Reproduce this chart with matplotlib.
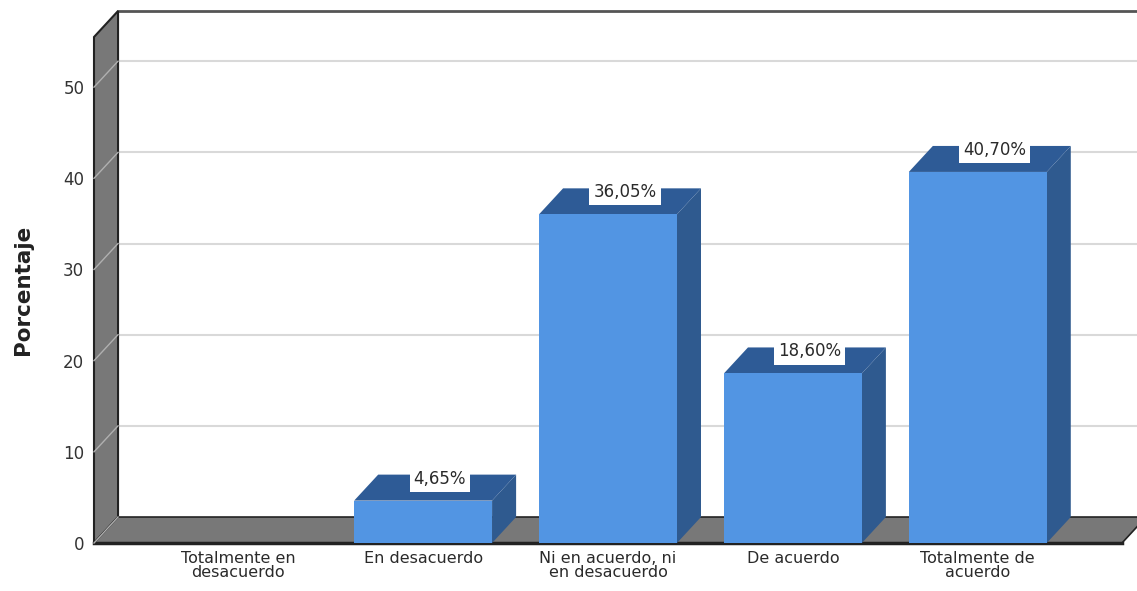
import matplotlib
matplotlib.use('Agg')
import matplotlib.pyplot as plt
from matplotlib.patches import Polygon, Rectangle

# Response shares (%) per answer option
categories = ['Totalmente en\ndesacuerdo', 'En desacuerdo',
              'Ni en acuerdo, ni\nen desacuerdo', 'De acuerdo',
              'Totalmente de\nacuerdo']
percent = [0.0, 4.65, 36.05, 18.60, 40.70]
value_labels = ['', '4,65%', '36,05%', '18,60%', '40,70%']
yticks = [0, 10, 20, 30, 40, 50]

# pseudo-3D look
FRONT = '#5295e3'
TOP = '#2e5b96'
SIDE = '#2f5a8f'
WALL = '#787878'
EDGE = '#222222'
GRID = '#d9d9d9'

X0, X1 = -0.78, 4.78
YTOP = 55.5
DX, DY = 0.13, 2.85   # depth offset in data units
BAR_W = 0.746

plt.rcParams['font.family'] = ['DejaVu Sans']

fig = plt.figure(figsize=(11.37, 5.91), dpi=100)
ax = fig.add_axes([94 / 1137, 48 / 591, 1028 / 1137, 506 / 591])
ax.set_xlim(X0, X1)
ax.set_ylim(0, YTOP)
for sp in ax.spines.values():
    sp.set_visible(False)


def poly(pts, color, z, ec='none', lw=0):
    ax.add_patch(Polygon(pts, closed=True, facecolor=color, edgecolor=ec,
                         linewidth=lw, zorder=z, clip_on=False))


# back wall with gridlines
ax.add_patch(Rectangle((X0 + DX, DY), X1 - X0 + 1, YTOP, facecolor='white',
                       edgecolor='none', zorder=0, clip_on=False))
ax.plot([X0 + DX, X1 + 1], [YTOP + DY, YTOP + DY], color='#555555', lw=2,
        zorder=1, clip_on=False)
for t in yticks[1:]:
    ax.plot([X0 + DX, X1 + 1], [t + DY, t + DY], color=GRID, lw=1.5,
            zorder=1, clip_on=False)

# left wall
poly([(X0, 0), (X0, YTOP), (X0 + DX, YTOP + DY), (X0 + DX, DY)],
     WALL, 2, EDGE, 1.5)
for t in yticks[1:]:
    ax.plot([X0, X0 + DX], [t, t + DY], color='#b0b0b0', lw=1.0, zorder=3,
            clip_on=False)

# floor
poly([(X0, 0), (X1, 0), (X1 + DX, DY), (X0 + DX, DY)], WALL, 2, EDGE, 1.2)
ax.plot([X0, X1], [0, 0], color=EDGE, lw=2.5, zorder=3, clip_on=False)
ax.plot([X0, X0 + DX], [0, DY], color='#b0b0b0', lw=1.0, zorder=3,
        clip_on=False)

# bars
for i, (v, lab) in enumerate(zip(percent, value_labels)):
    if v <= 0:
        continue
    l, r = i - BAR_W / 2, i + BAR_W / 2
    poly([(r, 0), (r + DX, DY), (r + DX, v + DY), (r, v)], SIDE, 4)
    poly([(l, v), (r, v), (r + DX, v + DY), (l + DX, v + DY)], TOP, 4)
    ax.add_patch(Rectangle((l, 0), BAR_W, v, facecolor=FRONT,
                           edgecolor='none', zorder=5, clip_on=False))
    ax.text(i + DX * 0.7, v + DY * 0.85, lab, ha='center', va='center',
            fontsize=12, color='#2a2a2a', zorder=6,
            bbox=dict(boxstyle='square,pad=0.25', facecolor='white',
                      edgecolor='none'))

ax.set_yticks(yticks)
ax.set_yticklabels([str(t) for t in yticks], fontsize=12, color='#333333')
ax.set_xticks(range(len(categories)))
ax.set_xticklabels(categories, fontsize=11.5, color='#2a2a2a',
                   linespacing=0.9)
ax.tick_params(axis='y', length=0, pad=7)
ax.tick_params(axis='x', length=0, pad=6)
ax.set_ylabel('Porcentaje', fontsize=15.5, fontweight='bold', color='#222222',
              labelpad=22)

fig.savefig('out.png', dpi=100)
